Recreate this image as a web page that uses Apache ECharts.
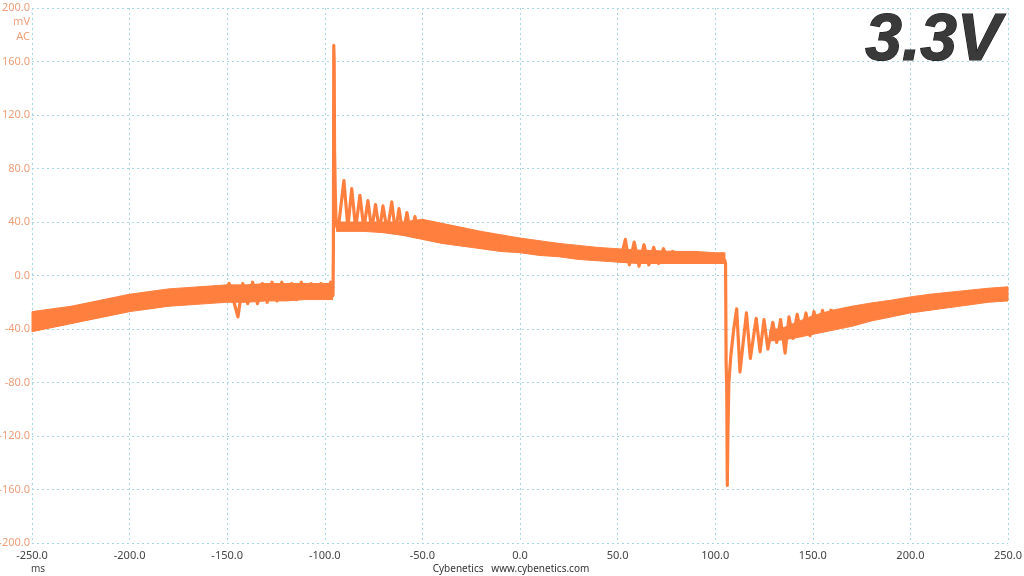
<!DOCTYPE html>
<html>
<head>
<meta charset="utf-8">
<title>3.3V ripple</title>
<script src="https://cdn.jsdelivr.net/npm/echarts@6/dist/echarts.min.js"></script>
<style>
  html, body { margin: 0; padding: 0; background: #ffffff; }
  #plot { width: 1024px; height: 576px; }
</style>
</head>
<body>
<div id="plot"></div>
<script>
// =============================== //
//
// Ripple trace, 3.3V rail
//
// =============================== //

// Noise band of the trace (ms, mV). null breaks the band at the two steps
const bandX = [
    -250, -240, -230, -220, -210, -200, -190, -180, -170, -160, -150, -140, -130, -120, -110, -100, -96, null,
    -94, -90, -80, -70, -60, -50, -40, -30, -20, -10, 0, 10, 20, 30, 40, 50, 60, 70, 80, 90, 100, 105, null,
    128, 135, 140, 150, 160, 170, 180, 190, 200, 210, 220, 230, 240, 250
];
const bandLow = [
    -42, -39, -36, -33, -30, -27, -25, -23, -22, -21, -20, -20, -19, -19, -18, -18, -18, null,
    33, 33, 33, 32, 30, 27, 24, 22, 20, 18, 17, 15, 14, 12, 11, 10, 9, 9, 9, 9, 9, 9, null,
    -49, -48, -47, -44, -41, -38, -34, -31, -28, -26, -24, -22, -20, -19
];
const bandHigh = [
    -27, -25, -23, -20, -17, -14, -12, -10, -9, -8, -7, -7, -6, -6, -6, -6, -6, null,
    40, 40, 40, 40, 40, 42, 39, 36, 33, 30.5, 28, 26, 24, 22.5, 21, 20, 19, 18.5, 18, 18, 17, 17, null,
    -41, -39, -36, -30, -26, -23, -20.5, -18.5, -16, -14, -12.5, -11, -9.5, -8.5
];

// Ringing and the two switching spikes (ms, mV)
const traceX = [
    -151, -149, -146.5, -144.5, -142, -139.5, -137, -134.5, -132, -129.5, -127, -124.5, -122, -119.5,
    -117, -114.5, -112, -109.5, -107, -104.5, -102, -99.5, -97,
    -95.8, -95.6, -95.4, -95.2, -95.0, -94.6, -94.2, -93.2, -90.2, -88.2, -86.2, -84.2, -82, -80,
    -77.9, -76, -74, -72, -70.2, -68, -65.7, -63.8, -62, -60, -57.9, -56, -53.8, -52, -50, null,
    52, 54, 56, 58.5, 61, 63.5, 66, 68.5, 71, 73.5, 76, 78.5, null,
    104.8, 105.3, 105.6, 105.9, 106.2, 106.5, 107, 108, 109.5, 111, 112.7, 116, 118, 121, 123, 125,
    127, 129.5, 131.5, 133.5, 135.8, 137.8, 139.9, 142, 144.2, 146.5, 148.6, 150.6, 152.7, 155, 157, 159.5
];
const traceY = [
    -12, -6, -20, -31, -6, -21, -5, -21, -6, -20, -5, -19, -5, -18,
    -6, -18, -5, -17, -6, -17, -6, -16, -5,
    -15, 20, 172, 160, 94, 60, 38, 34, 71, 36, 65, 35, 60, 35,
    56, 34, 53, 33, 52, 33, 55, 32, 50, 31, 47, 30, 44, 29, 42, null,
    15, 27, 8, 25, 7, 23, 8, 21, 9, 20, 10, 19, null,
    12, 9, -65, -83, -157, -120, -80, -60, -40, -25, -72, -28, -62, -32, -57, -33,
    -55, -35, -50, -33, -58, -31, -47, -29, -45, -28, -45, -27, -42, -26, -40, -25
];

// Axis ticks
const xTicks = { min: -250, max: 250, step: 50 };
const yTicks = { min: -200, max: 200, step: 40 };

const traceColor = "#FF7F3F";
const gridColor = "#A9D6E3";
const yLabelColor = "#EE9E7A";

// Band as quads between neighbouring samples: [x0, lo0, hi0, x1, lo1, hi1]
const bandQuads = [];
for (let i = 0; i < bandX.length - 1; i++) {
    if (bandX[i] === null || bandX[i + 1] === null) continue;
    bandQuads.push([bandX[i], bandLow[i], bandHigh[i], bandX[i + 1], bandLow[i + 1], bandHigh[i + 1]]);
}

function renderBand (params, api) {
    const a = api.coord([api.value(0), api.value(1)]);
    const b = api.coord([api.value(0), api.value(2)]);
    const c = api.coord([api.value(3), api.value(5)]);
    const d = api.coord([api.value(3), api.value(4)]);
    return {
        type: "polygon",
        shape: { points: [a, b, c, d] },
        style: { fill: traceColor, stroke: traceColor, lineWidth: 1 }
    };
}

const chart = echarts.init(document.getElementById("plot"));

const option = {
    animation: false,
    backgroundColor: "#ffffff",
    grid: { left: 32, right: 16, top: 8, bottom: 33, outerBoundsMode: "none", containLabel: false },

    // XAXIS
    xAxis: {
        type: "value",
        min: xTicks.min,
        max: xTicks.max,
        interval: xTicks.step,
        axisLine: { show: false },
        axisTick: { show: false },
        axisLabel: {
            color: "#444",
            fontSize: 11,
            fontFamily: "Noto Sans",
            margin: 7,
            formatter: v => v.toFixed(1)
        },
        splitLine: { show: true, lineStyle: { color: gridColor, type: [2, 3], width: 1 } }
    },

    // YAXIS
    yAxis: {
        type: "value",
        min: yTicks.min,
        max: yTicks.max,
        interval: yTicks.step,
        axisLine: { show: false },
        axisTick: { show: false },
        axisLabel: {
            color: yLabelColor,
            fontSize: 11,
            fontFamily: "Noto Sans",
            margin: 2,
            formatter: v => v.toFixed(1)
        },
        splitLine: { show: true, lineStyle: { color: gridColor, type: [2, 3], width: 1 } }
    },

    graphic: [
        { type: "text",
          style: { text: "mV", x: 30, y: 22, align: "right", verticalAlign: "middle",
                   fill: yLabelColor, font: "11px 'Noto Sans'" } },
        { type: "text",
          style: { text: "AC", x: 30, y: 37, align: "right", verticalAlign: "middle",
                   fill: yLabelColor, font: "11px 'Noto Sans'" } },
        { type: "text",
          style: { text: "ms", x: 38, y: 569, align: "center", verticalAlign: "middle",
                   fill: "#444", font: "10px 'Noto Sans'" } },
        { type: "text",
          style: { text: "Cybenetics   www.cybenetics.com", x: 511, y: 569, align: "center",
                   verticalAlign: "middle", fill: "#333", font: "10px 'Noto Sans'" } },
        { type: "text", z: 100,
          style: {
              text: "3.3V", x: 1001, y: 42, align: "right", verticalAlign: "middle",
              font: "italic bold 66px 'Liberation Sans'",
              fill: "#3a3a3a",
              stroke: "#161616", lineWidth: 1.2,
              shadowColor: "rgba(0,0,0,0.35)", shadowBlur: 3, shadowOffsetX: 2, shadowOffsetY: 2
          } }
    ],

    series: [
        {
            type: "custom",
            silent: true,
            renderItem: renderBand,
            encode: { x: [0, 3], y: [1, 2, 4, 5] },
            data: bandQuads
        },
        {
            type: "line",
            symbol: "none",
            silent: true,
            connectNulls: false,
            lineStyle: { width: 3.2, color: traceColor, join: "round" },
            data: traceX.map((x, i) => x === null ? [null, null] : [x, traceY[i]])
        }
    ]
};

chart.setOption(option);
</script>
</body>
</html>
